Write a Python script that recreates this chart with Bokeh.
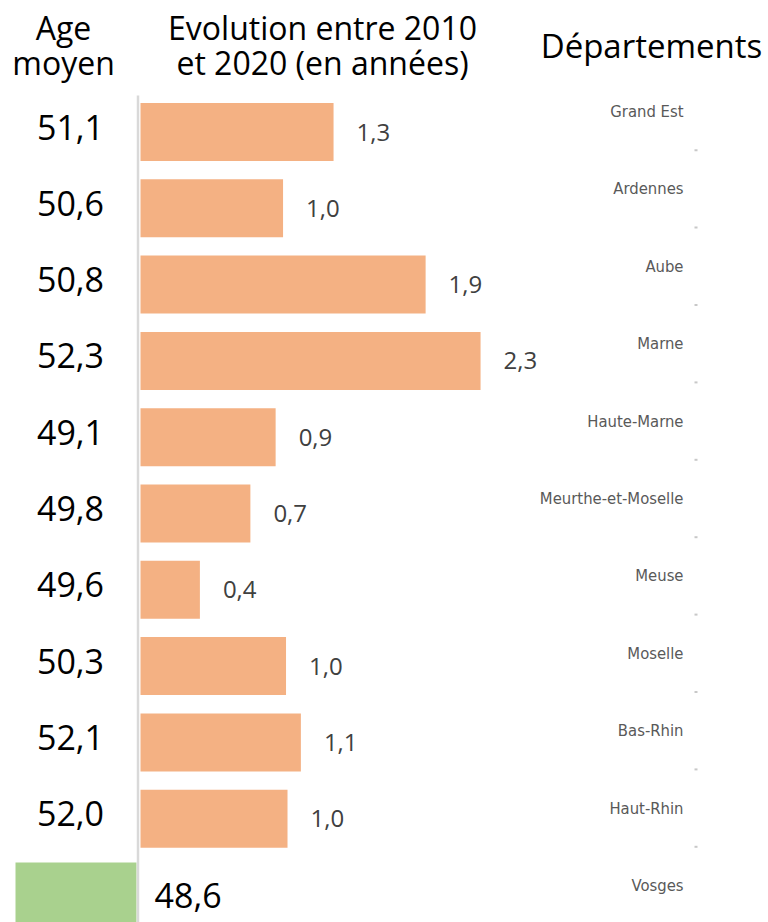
from bokeh.plotting import figure
from bokeh.models import Range1d, ColumnDataSource
from bokeh.core.properties import value
from bokeh.embed import file_html
from bokeh.resources import INLINE

# ---------------- data ----------------
departements = ["Grand Est", "Ardennes", "Aube", "Marne", "Haute-Marne",
                "Meurthe-et-Moselle", "Meuse", "Moselle", "Bas-Rhin",
                "Haut-Rhin", "Vosges"]
age_moyen = [51.1, 50.6, 50.8, 52.3, 49.1, 49.8, 49.6, 50.3, 52.1, 52.0, 48.6]
evolution = [1.30, 0.96, 1.92, 2.29, 0.91, 0.74, 0.40, 0.98, 1.08, 0.99]
header_age = ["Age", "moyen"]
header_evol = ["Evolution entre 2010", "et 2020 (en années)"]
header_dep = "Départements"


def fr(v):
    return f"{v:.1f}".replace(".", ",")


# ---------------- layout ----------------
W, H = 768, 922
PXU_X = 148.5          # px per year of evolution
X0 = 140               # px of zero
PXU_Y = 76.3           # px per row
Y0 = 131.5             # px of row 0 centre
PXU_D = 77.4           # px per row of the department labels
D0 = 111.0


def sx(screen_x):
    return (screen_x - X0) / PXU_X


def sy(screen_y):
    return (screen_y - Y0) / PXU_Y


p = figure(width=W, height=H, output_backend="svg", toolbar_location=None,
           x_range=Range1d(-X0 / PXU_X, (W - X0) / PXU_X),
           y_range=Range1d((H - Y0) / PXU_Y, -Y0 / PXU_Y),
           x_axis_location=None, y_axis_location=None, min_border=0)
p.extra_y_ranges = {"dept": Range1d((H - D0) / PXU_D, -D0 / PXU_D)}
p.grid.visible = False
p.outline_line_color = None
p.background_fill_color = "white"
p.border_fill_color = "white"

n = len(evolution)
rows = list(range(n))

# bars
bars = ColumnDataSource(dict(y=rows, right=evolution,
                             lab=[fr(v) for v in evolution]))
p.hbar(y="y", left=0, right="right", height=0.76, source=bars,
       fill_color="#F4B183", line_color=None)
p.text(x="right", y="y", text="lab", source=bars, x_offset=23, y_offset=0,
       text_font=value("Open Sans"), text_font_size="24px",
       text_color="#404040", text_align="left", text_baseline="middle")

# Vosges green block in the age column
p.hbar(y=[n], left=[sx(15)], right=[sx(136)], height=0.85,
       fill_color="#A9D18E", line_color=None)

# vertical axis line
p.segment(x0=[sx(137.5)], x1=[sx(137.5)], y0=[sy(95)], y1=[n + 1],
          line_color="#D9D9D9", line_width=2.5)

# age values
ages = ColumnDataSource(dict(y=rows, lab=[fr(v) for v in age_moyen[:n]]))
p.text(x=sx(70), y="y", text="lab", source=ages, y_offset=-5,
       text_font=value("Open Sans"), text_font_size="34px",
       text_color="black", text_align="center", text_baseline="middle")
p.text(x=[sx(154)], y=[n], text=[fr(age_moyen[n])], y_offset=0,
       text_font=value("Open Sans"), text_font_size="34px",
       text_color="black", text_align="left", text_baseline="middle")

# department labels (own row scale)
drows = list(range(len(departements)))
dsrc = ColumnDataSource(dict(y=drows, lab=departements))
p.text(x=sx(683), y="y", text="lab", source=dsrc, y_range_name="dept",
       text_font=value("'DejaVu Sans Condensed', 'Liberation Sans Narrow', Roboto"),
       text_font_size="16.5px",
       text_color="#595959", text_align="right", text_baseline="middle")
ticks = [i + 0.5 for i in drows[:-1]]
p.segment(x0=[sx(694)] * len(ticks), x1=[sx(697)] * len(ticks),
          y0=ticks, y1=ticks, y_range_name="dept",
          line_color="#C8C8C8", line_width=2)

# headers
p.text(x=[sx(63)] * 2, y=[sy(27), sy(62)], text=header_age,
       text_font=value("Open Sans"), text_font_size="32px",
       text_color="black", text_align="center", text_baseline="middle")
p.text(x=[sx(322)] * 2, y=[sy(27), sy(62)], text=header_evol,
       text_font=value("Open Sans"), text_font_size="32px",
       text_color="black", text_align="center", text_baseline="middle")
p.text(x=[sx(651)], y=[sy(45)], text=[header_dep],
       text_font=value("Open Sans"), text_font_size="33px",
       text_color="black", text_align="center", text_baseline="middle")

open("out.html", "w").write(file_html(p, INLINE))
